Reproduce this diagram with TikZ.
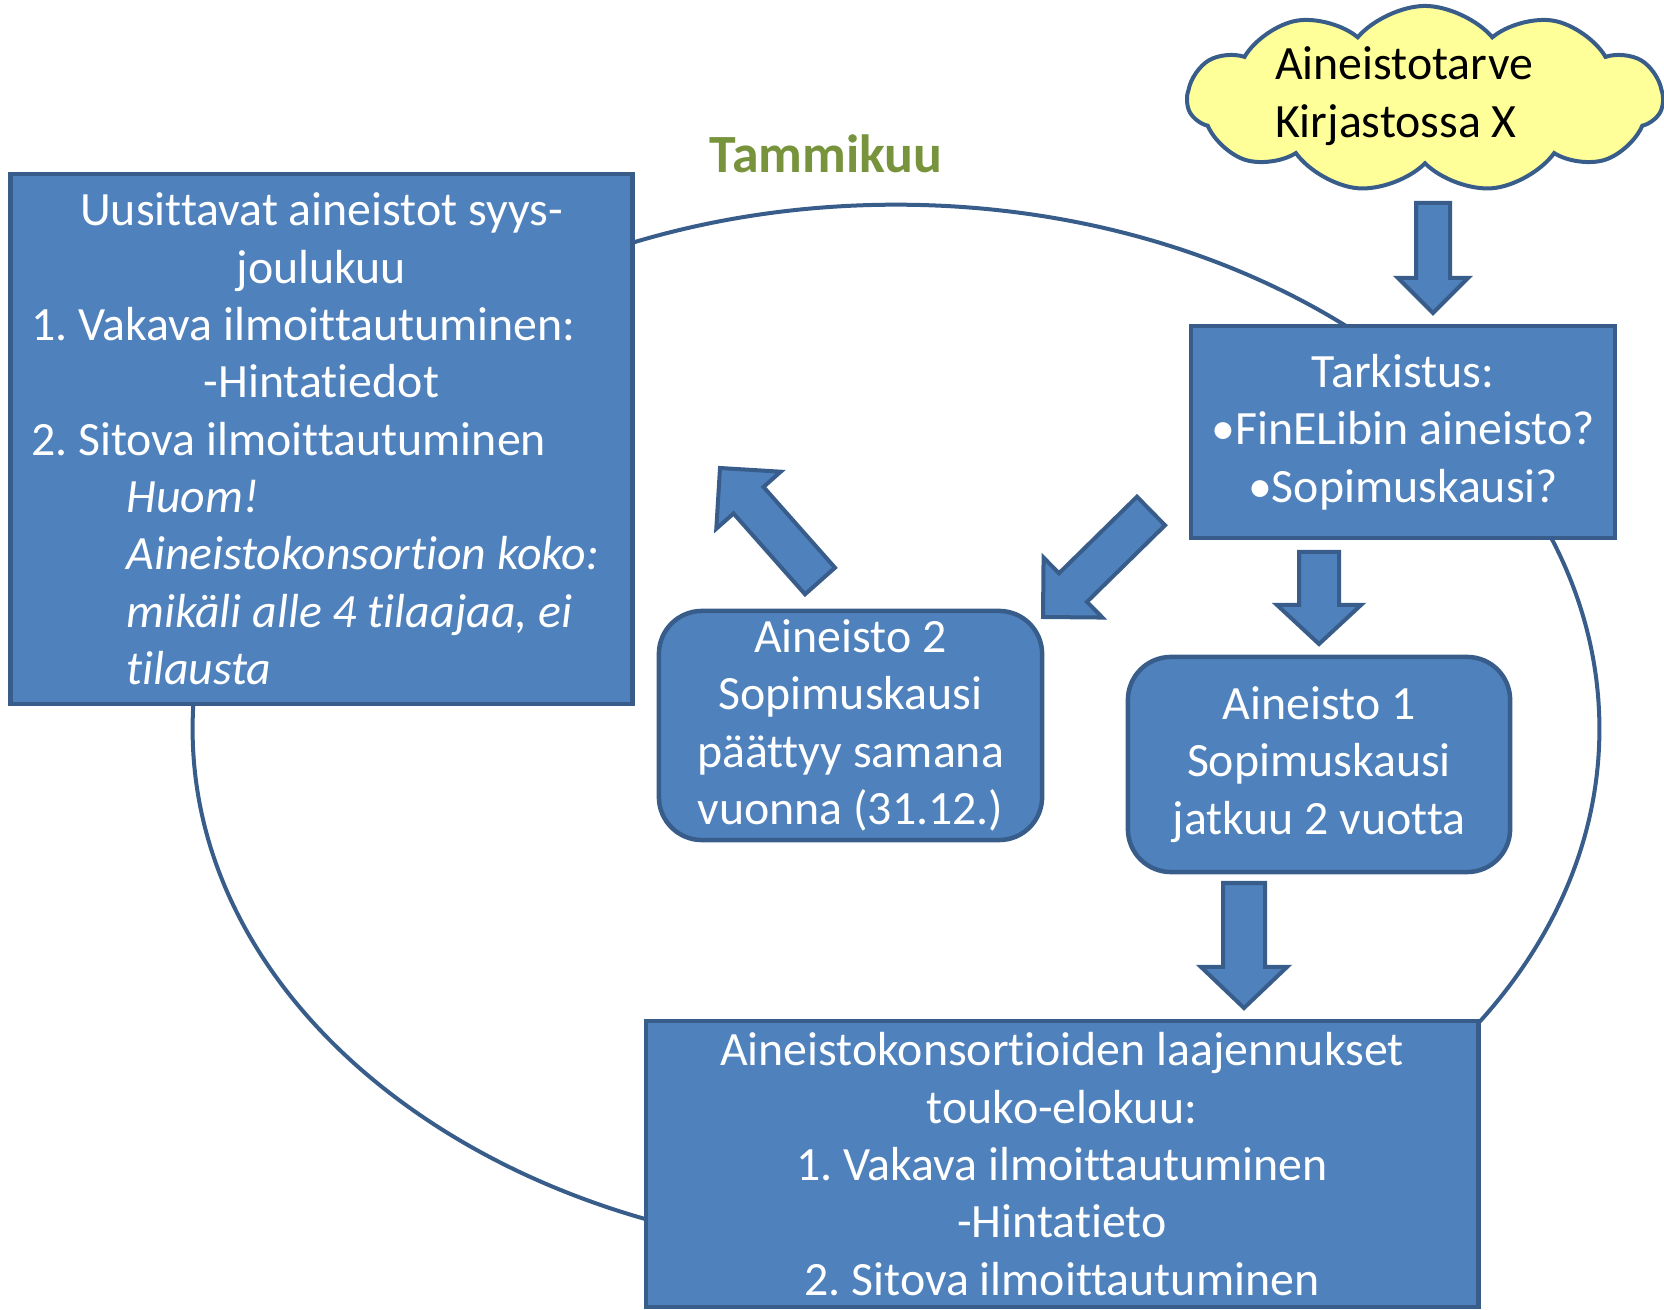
\documentclass[tikz,border=0pt]{standalone}
\usepackage{fontspec}
\setmainfont{Carlito}[Ligatures=NoCommon]
\usetikzlibrary{calc,shapes.symbols}
\definecolor{boxblue}{HTML}{4F81BD}
\definecolor{edgeblue}{HTML}{385D8A}
\definecolor{cloudyellow}{HTML}{FFFF99}
\definecolor{monthgreen}{HTML}{77933C}
\frenchspacing
\tikzset{
  box/.style={draw=edgeblue,line width=0.045cm,fill=boxblue,text=white,inner sep=0pt,
    align=center,font=\fontsize{13.6}{16.3}\selectfont},
  roundbox/.style={box,rounded corners=0.43cm},
  bigarrow/.style={draw=edgeblue,line width=0.04cm,fill=boxblue},
  yearloop/.style={draw=edgeblue,line width=0.04cm}
}
% block arrow: from, to, half shaft, half head, head length
\newcommand{\blockarrow}[5]{%
  \coordinate (hb) at ($(#2)!#5!(#1)$);
  \draw[bigarrow] ($(#1)!#3!90:(#2)$) -- ($(hb)!#3!-90:(#1)$) -- ($(hb)!#4!-90:(#1)$) -- (#2)
    -- ($(hb)!#4!90:(#1)$) -- ($(hb)!#3!90:(#1)$) -- ($(#1)!#3!-90:(#2)$) -- cycle;
}
\begin{document}
\begin{tikzpicture}[x=0.01cm,y=-0.01cm]
\useasboundingbox (0,0) rectangle (1664,1310);
% the year
\draw[yearloop] (896,729) ellipse [x radius=7.03cm,y radius=5.24cm];
\node[font=\fontsize{15.3}{18}\selectfont\bfseries,text=monthgreen,anchor=base] (month) at (826,173) {Tammikuu};
% boxes
\node[box,align=flush left,text width=5.8cm,minimum width=6.22cm,minimum height=5.30cm] (renew) at (321.5,439) {%
  {\centering Uusittavat aineistot syys-\\joulukuu\par}
  1. Vakava ilmoittautuminen:\par
  {\centering -Hintatiedot\par}
  2. Sitova ilmoittautuminen\par
  {\itshape\leftskip=0.95cm Huom!\\Aineistokonsortion koko:\\mikäli alle 4 tilaajaa, ei\\tilausta\par}};
\node[box,minimum width=4.24cm,minimum height=2.12cm] (check) at (1403,432)
  {Tarkistus:\\•FinELibin aineisto?\\•Sopimuskausi?};
\node[roundbox,minimum width=3.83cm,minimum height=2.29cm] (mat2) at (850.5,725.5)
  {Aineisto 2\\Sopimuskausi\\päättyy samana\\vuonna (31.12.)};
\node[roundbox,minimum width=3.82cm,minimum height=2.15cm] (mat1) at (1319,764.5)
  {Aineisto 1\\Sopimuskausi\\jatkuu 2 vuotta};
\node[box,minimum width=8.32cm,minimum height=2.86cm] (extend) at (1062,1164)
  {Aineistokonsortioiden laajennukset\\touko-elokuu:\\1. Vakava ilmoittautuminen\\-Hintatieto\\2. Sitova ilmoittautuminen};
% need
\node[cloud,cloud puffs=11,cloud puff arc=100,aspect=2.6,draw=edgeblue,fill=cloudyellow,line width=0.04cm,
  minimum width=4.75cm,minimum height=1.86cm] (need) at (1425,99) {};
\node[align=left,font=\fontsize{13.6}{16.3}\selectfont] (needtext) at (1404,96) {Aineistotarve\\Kirjastossa X};
% arrows
\coordinate (a1s) at (1433,203); \coordinate (a1e) at (1433,313);
\coordinate (a2s) at (1319,552); \coordinate (a2e) at (1319,644);
\coordinate (a3s) at (1244,883); \coordinate (a3e) at (1244,1008);
\coordinate (a4s) at (1151,511); \coordinate (a4e) at (1043,617);
\coordinate (a5s) at (820,581);  \coordinate (a5e) at (720,468);
\blockarrow{a1s}{a1e}{0.17cm}{0.35cm}{0.35cm}
\blockarrow{a2s}{a2e}{0.20cm}{0.42cm}{0.39cm}
\blockarrow{a3s}{a3e}{0.21cm}{0.43cm}{0.41cm}
\blockarrow{a4s}{a4e}{0.20cm}{0.42cm}{0.42cm}
\blockarrow{a5s}{a5e}{0.20cm}{0.43cm}{0.43cm}
\end{tikzpicture}
\end{document}
